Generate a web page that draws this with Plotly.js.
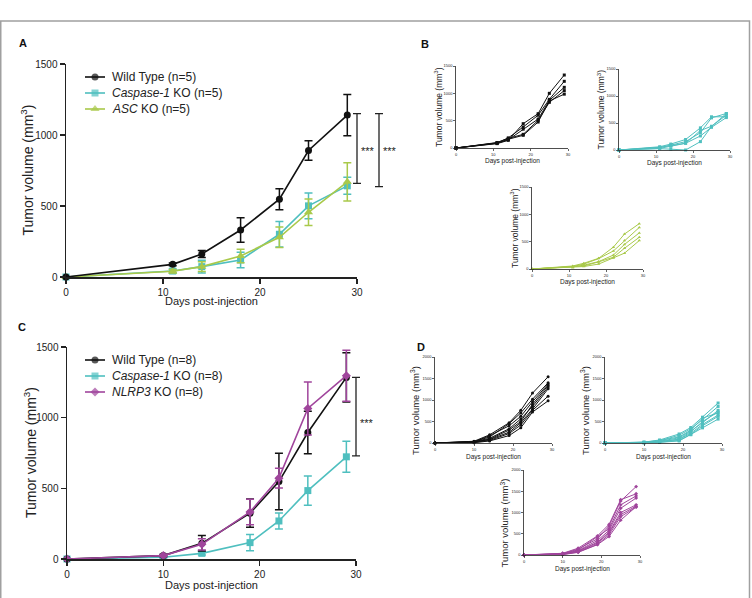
<!DOCTYPE html>
<html>
<head>
<meta charset="utf-8">
<script src="https://cdn.plot.ly/plotly-3.0.1.min.js"></script>
<style>
  html, body { margin: 0; padding: 0; background: #fff; }
  #chart { width: 752px; height: 598px; }
</style>
</head>
<body>
<div id="chart"></div>
<script>
// ---- Tumor growth data (mm^3) ----
// Panel A: mean +/- SD, n = 5 per group
const daysA = [0, 11, 14, 18, 22, 25, 29];
const wtA = [0, 89, 162, 331, 548, 891, 1140];
const wtA_sd = [0, 10, 24, 87, 74, 68, 146];
const casp1A = [0, 42, 73, 120, 301, 501, 642];
const casp1A_sd = [0, 15, 45, 55, 90, 90, 60];
const ascA = [0, 40, 73, 148, 280, 456, 670];
const ascA_sd = [0, 12, 35, 47, 72, 93, 135];
const sigTopA = [1150, 1150];
const sigBottomA = [660, 637];

// Panel C: mean +/- SD, n = 8 per group
const daysC = [0, 10, 14, 19, 22, 25, 29];
const wtC = [0, 24, 111, 324, 548, 895, 1285];
const wtC_sd = [0, 8, 55, 100, 200, 150, 175];
const casp1C = [0, 12, 40, 116, 269, 484, 723];
const casp1C_sd = [0, 5, 12, 57, 57, 103, 110];
const nlrp3C = [0, 24, 104, 333, 572, 1065, 1297];
const nlrp3C_sd = [0, 8, 40, 90, 70, 187, 180];
const sigTopC = [1285];
const sigBottomC = [730];

// Panel B: individual mice (days as in panel A)
const wtMiceB = [
  [0, 80, 140, 445, 628, 1000, 1335],
  [0, 95, 185, 384, 600, 890, 1220],
  [0, 85, 150, 345, 530, 870, 1110],
  [0, 100, 175, 250, 506, 835, 1050],
  [0, 90, 160, 232, 475, 860, 985]
];
const casp1MiceB = [
  [0, 60, 110, 195, 410, 615, 615],
  [0, 45, 90, 155, 320, 595, 676],
  [0, 30, 70, 125, 360, 440, 645],
  [0, 50, 80, 125, 260, 420, 600],
  [0, 25, 15, 0, 155, 435, 675]
];
const ascMiceB = [
  [0, 55, 105, 195, 400, 640, 830],
  [0, 45, 90, 190, 330, 520, 760],
  [0, 40, 70, 135, 255, 450, 660],
  [0, 35, 55, 130, 215, 380, 580],
  [0, 25, 45, 90, 200, 290, 520]
];

// Panel D: individual mice (days as in panel C)
const wtMiceD = [
  [0, 40, 190, 470, 760, 1160, 1540],
  [0, 35, 140, 450, 700, 1020, 1400],
  [0, 25, 170, 400, 620, 960, 1370],
  [0, 30, 110, 330, 560, 850, 1300],
  [0, 20, 90, 300, 500, 900, 1340],
  [0, 20, 80, 250, 470, 790, 1260],
  [0, 15, 60, 220, 420, 760, 1090],
  [0, 7, 48, 172, 354, 720, 980]
];
const casp1MiceD = [
  [0, 20, 70, 210, 360, 600, 930],
  [0, 15, 50, 180, 330, 540, 850],
  [0, 18, 60, 140, 300, 580, 700],
  [0, 12, 40, 120, 280, 470, 760],
  [0, 10, 35, 90, 260, 500, 720],
  [0, 8, 30, 80, 230, 430, 650],
  [0, 7, 20, 60, 200, 400, 620],
  [0, 6, 15, 48, 192, 352, 556]
];
const nlrp3MiceD = [
  [0, 40, 160, 450, 720, 1300, 1440],
  [0, 30, 140, 380, 680, 1270, 1610],
  [0, 35, 120, 420, 620, 1180, 1390],
  [0, 25, 105, 340, 580, 1100, 1340],
  [0, 20, 95, 300, 540, 1000, 1180],
  [0, 18, 80, 280, 520, 950, 1150],
  [0, 14, 70, 250, 480, 900, 1130],
  [0, 10, 62, 244, 436, 820, 1136]
];

const legendA = ['Wild Type (n=5)', '<i>Caspase-1</i> KO (n=5)', '<i>ASC</i> KO (n=5)'];
const legendC = ['Wild Type (n=8)', '<i>Caspase-1</i> KO (n=8)', '<i>NLRP3</i> KO (n=8)'];
const xTicks = [0, 10, 20, 30];
const yTicks1500 = [0, 500, 1000, 1500];
const yTicks2000 = [0, 500, 1000, 1500, 2000];

// ---- Styling / geometry ----
const W = 752, H = 598;
const FONT = 'Liberation Sans, Arial, Helvetica, sans-serif';
const C_WT = '#111111', C_CASP = '#4fbfbf', C_ASC = '#a9c94a', C_NLRP = '#a0459c';

// plot boxes in pixels: [left, right, top, bottom]
const boxes = {
  A:  { n: 1, box: [66, 357, 64, 277],  ymax: 1500, yt: yTicks1500, big: true },
  C:  { n: 2, box: [67, 356, 347, 559], ymax: 1500, yt: yTicks1500, big: true },
  B1: { n: 3, box: [456, 568, 66, 148], ymax: 1500, yt: yTicks1500 },
  B2: { n: 4, box: [619, 730, 69, 150], ymax: 1500, yt: yTicks1500 },
  B3: { n: 5, box: [532, 643, 187, 269], ymax: 1500, yt: yTicks1500 },
  D1: { n: 6, box: [435, 552, 357, 443], ymax: 2000, yt: yTicks2000 },
  D2: { n: 7, box: [605, 722, 357, 443], ymax: 2000, yt: yTicks2000 },
  D3: { n: 8, box: [524, 640, 470, 555], ymax: 2000, yt: yTicks2000 }
};
const OV = 9; // full-figure overlay axes in pixel units

const axName = (c, n) => (n === 1 ? c + 'axis' : c + 'axis' + n);
const axRef = (c, n) => (n === 1 ? c : c + n);

const layout = {
  width: W, height: H,
  margin: { l: 0, r: 0, t: 0, b: 0 },
  paper_bgcolor: '#ffffff',
  plot_bgcolor: 'rgba(0,0,0,0)',
  showlegend: false,
  font: { family: FONT, color: '#222' },
  shapes: [],
  annotations: []
};

Object.values(boxes).forEach(p => {
  const [x0, x1, yt, yb] = p.box;
  const big = !!p.big;
  const common = {
    showline: true, linecolor: '#222', linewidth: big ? 1.5 : 0.8,
    ticks: 'outside', ticklen: big ? 5 : 2, tickwidth: big ? 1.5 : 0.7, tickcolor: '#222',
    tickfont: { size: big ? 10 : 4, color: '#222', family: FONT },
    showgrid: false, zeroline: false, fixedrange: true
  };
  layout[axName('x', p.n)] = Object.assign({}, common, {
    domain: [x0 / W, x1 / W], range: [0, 30], anchor: axRef('y', p.n),
    tickmode: 'array', tickvals: xTicks
  });
  layout[axName('y', p.n)] = Object.assign({}, common, {
    domain: [1 - yb / H, 1 - yt / H], range: [0, p.ymax], anchor: axRef('x', p.n),
    tickmode: 'array', tickvals: p.yt
  });
});
layout[axName('x', OV)] = { domain: [0, 1], range: [0, W], anchor: 'y' + OV, visible: false, fixedrange: true };
layout[axName('y', OV)] = { domain: [0, 1], range: [H, 0], anchor: 'x' + OV, visible: false, fixedrange: true };

const traces = [];

// mean +/- SD curves
function meanTrace(p, x, y, sd, color, symbol, size) {
  traces.push({
    type: 'scatter', mode: 'lines+markers', x: x, y: y,
    xaxis: axRef('x', p.n), yaxis: axRef('y', p.n), cliponaxis: false,
    line: { color: color, width: 1.6 },
    marker: { color: color, symbol: symbol, size: size, line: { width: 0 } },
    error_y: { type: 'data', array: sd, visible: true, color: color, thickness: 1.5, width: 4 },
    hoverinfo: 'skip'
  });
}
meanTrace(boxes.A, daysA, casp1A, casp1A_sd, C_CASP, 'square', 7);
meanTrace(boxes.A, daysA, ascA, ascA_sd, C_ASC, 'triangle-up', 8);
meanTrace(boxes.A, daysA, wtA, wtA_sd, C_WT, 'circle', 7);
meanTrace(boxes.C, daysC, casp1C, casp1C_sd, C_CASP, 'square', 7);
meanTrace(boxes.C, daysC, wtC, wtC_sd, C_WT, 'circle', 7);
meanTrace(boxes.C, daysC, nlrp3C, nlrp3C_sd, C_NLRP, 'diamond', 7);

// individual mouse curves
function miceTraces(p, x, mice, color, symbol) {
  mice.forEach(m => traces.push({
    type: 'scatter', mode: 'lines+markers', x: x, y: m,
    xaxis: axRef('x', p.n), yaxis: axRef('y', p.n), cliponaxis: false,
    line: { color: color, width: 1 },
    marker: { color: color, symbol: symbol, size: 3 },
    hoverinfo: 'skip'
  }));
}
miceTraces(boxes.B1, daysA, wtMiceB, C_WT, 'square');
miceTraces(boxes.B2, daysA, casp1MiceB, C_CASP, 'square');
miceTraces(boxes.B3, daysA, ascMiceB, C_ASC, 'triangle-up');
miceTraces(boxes.D1, daysC, wtMiceD, C_WT, 'circle');
miceTraces(boxes.D2, daysC, casp1MiceD, C_CASP, 'square');
miceTraces(boxes.D3, daysC, nlrp3MiceD, C_NLRP, 'diamond');

// pixel helpers
const yPix = (p, v) => p.box[3] - v / p.ymax * (p.box[3] - p.box[2]);
const xMid = p => (p.box[0] + p.box[1]) / 2;
const yMid = p => (p.box[2] + p.box[3]) / 2;

function note(x, y, text, size, opts) {
  layout.annotations.push(Object.assign({
    xref: 'x' + OV, yref: 'y' + OV, x: x, y: y, text: text, showarrow: false,
    xanchor: 'center', yanchor: 'middle',
    font: { family: FONT, size: size, color: '#222' }
  }, opts || {}));
}

// legends
function legend(rows, labels, colors, symbols, sizes) {
  rows.forEach((ry, i) => {
    traces.push({
      type: 'scatter', mode: 'lines+markers', x: [85, 95, 105], y: [ry, ry, ry],
      xaxis: 'x' + OV, yaxis: 'y' + OV, cliponaxis: false,
      line: { color: colors[i], width: 1.6 },
      marker: { color: colors[i], symbol: symbols[i], size: [0, sizes[i], 0], line: { width: 0 } },
      hoverinfo: 'skip'
    });
    note(110, ry, labels[i], 12, { xanchor: 'left' });
  });
}
legend([77, 93, 109], legendA, [C_WT, C_CASP, C_ASC], ['circle', 'square', 'triangle-up'], [7, 7, 8]);
legend([360, 376, 392], legendC, [C_WT, C_CASP, C_NLRP], ['circle', 'square', 'diamond'], [7, 7, 7]);

// significance brackets
function bracket(p, x, top, bottom, starsY) {
  const y0 = yPix(p, top), y1 = yPix(p, bottom);
  layout.shapes.push({
    type: 'path', xref: 'x' + OV, yref: 'y' + OV,
    path: `M${x - 4},${y0} H${x + 4} M${x},${y0} V${y1} M${x - 4},${y1} H${x + 4}`,
    line: { color: '#222', width: 1.3 }
  });
  note(x + 2, starsY, '***', 11, { xanchor: 'left' });
}
bracket(boxes.A, 357, sigTopA[0], sigBottomA[0], 151);
bracket(boxes.A, 379, sigTopA[1], sigBottomA[1], 151);
bracket(boxes.C, 356, sigTopC[0], sigBottomC[0], 423);

// axis titles
const ytitle = 'Tumor volume (mm<sup>3</sup>)';
note(27, yMid(boxes.A), ytitle, 14, { textangle: -90 });
note(30, yMid(boxes.C), ytitle, 14, { textangle: -90 });
note(xMid(boxes.A), 301, 'Days post-injection', 11);
note(xMid(boxes.C), 585, 'Days post-injection', 11);
['B1', 'B2', 'B3'].forEach(k => {
  const p = boxes[k];
  note(p.box[0] - 18, yMid(p), ytitle, 8.5, { textangle: -90 });
  note(xMid(p), p.box[3] + 13, 'Days post-injection', 6.5);
});
['D1', 'D2', 'D3'].forEach(k => {
  const p = boxes[k];
  note(p.box[0] - 20, yMid(p) + 11, ytitle, 9.5, { textangle: -90 });
  note(xMid(p), p.box[3] + 14, 'Days post-injection', 6.5);
});

// panel letters
[['A', 23, 43], ['B', 425, 44], ['C', 22, 327], ['D', 421, 347]].forEach(([t, x, y]) =>
  note(x, y, '<b>' + t + '</b>', 11, { font: { family: FONT, size: 11, color: '#111' } }));

// figure frame
layout.shapes.push({
  type: 'rect', xref: 'x' + OV, yref: 'y' + OV,
  x0: 0.75, x1: 749.5, y0: 21, y1: 640,
  line: { color: '#a0a0a0', width: 1.5 }
});

Plotly.newPlot('chart', traces, layout, { staticPlot: true, displayModeBar: false });
</script>
</body>
</html>
